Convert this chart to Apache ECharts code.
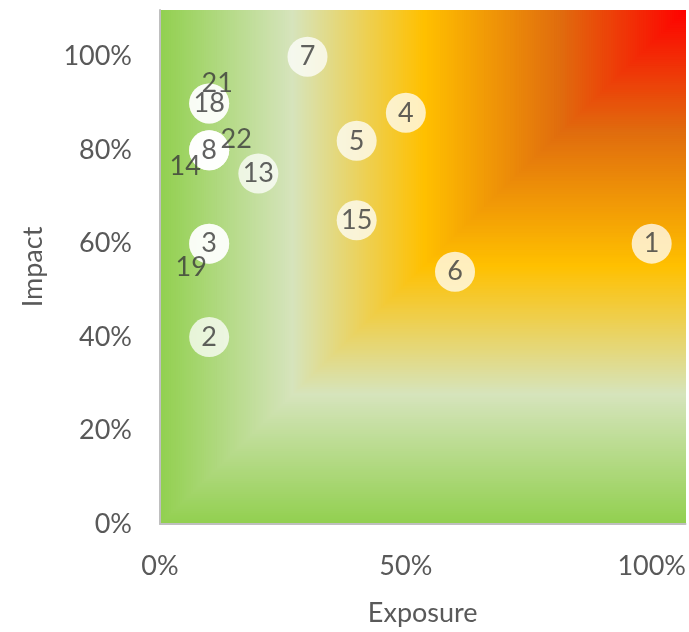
<!DOCTYPE html>
<html><head><meta charset="utf-8">
<script src="https://cdn.jsdelivr.net/npm/echarts@6/dist/echarts.min.js"></script>
<style>html,body{margin:0;padding:0;background:#fff}#c{width:689px;height:632px}</style>
</head><body><div id="c"></div>
<script>
// Risk ids, exposure (x) and impact (y)
const riskIds  = ['1','2','3','4','5','6','7','8','13','14','15','18','19','21','22'];
const exposure = [1.00,0.10,0.10,0.50,0.40,0.60,0.30,0.10,0.20,0.10,0.40,0.10,0.10,0.10,0.10];
const impact   = [0.60,0.40,0.60,0.88,0.82,0.54,1.00,0.80,0.75,0.80,0.65,0.90,0.60,0.90,0.80];
const xTicks = [0, 0.5, 1.0];
const yTicks = [0, 0.2, 0.4, 0.6, 0.8, 1.0];

// axis extents (plot runs slightly past 100%)
const X_MAX = 1.0687, Y_MAX = 1.1;

// label offsets for overlapping points (style)
const labelOffsets = {'21':[8,-20],'22':[27,-11],'14':[-24,16],'19':[-18,24]};

// background gradient stops (t = 0 at top-right corner, 1 at the far edges)
const stops = [[0,[255,0,0]],[0.24,[224,108,14]],[0.5,[255,192,0]],[0.75,[214,228,188]],[1,[146,208,80]]];
function colorAt(t){
  for(let i=1;i<stops.length;i++){
    if(t<=stops[i][0]){
      const a=stops[i-1], b=stops[i];
      const f=(t-a[0])/(b[0]-a[0]);
      const c=a[1].map((v,k)=>Math.round(v+(b[1][k]-v)*f));
      return 'rgb('+c.join(',')+')';
    }
  }
  return 'rgb(146,208,80)';
}
const bgSteps=[];
for(let i=240;i>=1;i--) bgSteps.push([i/240]);

const pointData = riskIds.map((id,i)=>{
  const d={value:[exposure[i],impact[i],id]};
  if(labelOffsets[id]) d.label={offset:labelOffsets[id]};
  return d;
});
// draw hidden duplicates first
pointData.sort((a,b)=>(labelOffsets[b.value[2]]?1:0)-(labelOffsets[a.value[2]]?1:0));

const FONT='Lato';
const chart=echarts.init(document.getElementById('c'),null,{renderer:'canvas'});
chart.setOption({
  animation:false,
  grid:{left:160,top:10,right:0,bottom:105,containLabel:false},
  xAxis:{type:'value',min:0,max:X_MAX,interval:0.5,
    name:'Exposure',nameLocation:'middle',nameGap:76,
    nameTextStyle:{fontFamily:FONT,fontSize:27,color:'#595959'},
    axisLine:{show:true,lineStyle:{color:'#bfbfbf',width:2}},
    axisTick:{show:false},splitLine:{show:false},
    axisLabel:{showMaxLabel:false,margin:29,fontFamily:FONT,fontSize:27,color:'#595959',
      formatter:v=>xTicks.some(t=>Math.abs(t-v)<1e-6)?Math.round(v*100)+'%':''}},
  yAxis:{type:'value',min:0,max:Y_MAX,interval:0.2,
    name:'Impact',nameLocation:'middle',nameGap:113,nameRotate:90,
    nameTextStyle:{fontFamily:FONT,fontSize:27,color:'#595959'},
    axisLine:{show:true,lineStyle:{color:'#bfbfbf',width:2}},
    axisTick:{show:false},splitLine:{show:false},
    axisLabel:{showMaxLabel:false,margin:28,fontFamily:FONT,fontSize:27,color:'#595959',
      formatter:v=>yTicks.some(t=>Math.abs(t-v)<1e-6)?Math.round(v*100)+'%':''}},
  series:[
    {type:'custom',silent:true,z:0,clip:true,data:bgSteps,
     renderItem:(params,api)=>{
       const t=api.value(0);
       const p0=api.coord([X_MAX*(1-t),Y_MAX]);
       const p1=api.coord([X_MAX,Y_MAX*(1-t)]);
       return {type:'rect',shape:{x:p0[0],y:p0[1],width:p1[0]-p0[0]+1,height:p1[1]-p0[1]},
         style:{fill:colorAt(t)}};
     }},
    {type:'scatter',z:5,symbol:'circle',symbolSize:40,data:pointData,
     itemStyle:{color:'rgba(255,255,255,0.93)'},
     label:{show:true,position:'inside',formatter:p=>p.value[2],
       fontFamily:FONT,fontSize:27,color:'#3a3a3a'}}
  ]
});
</script></body></html>
